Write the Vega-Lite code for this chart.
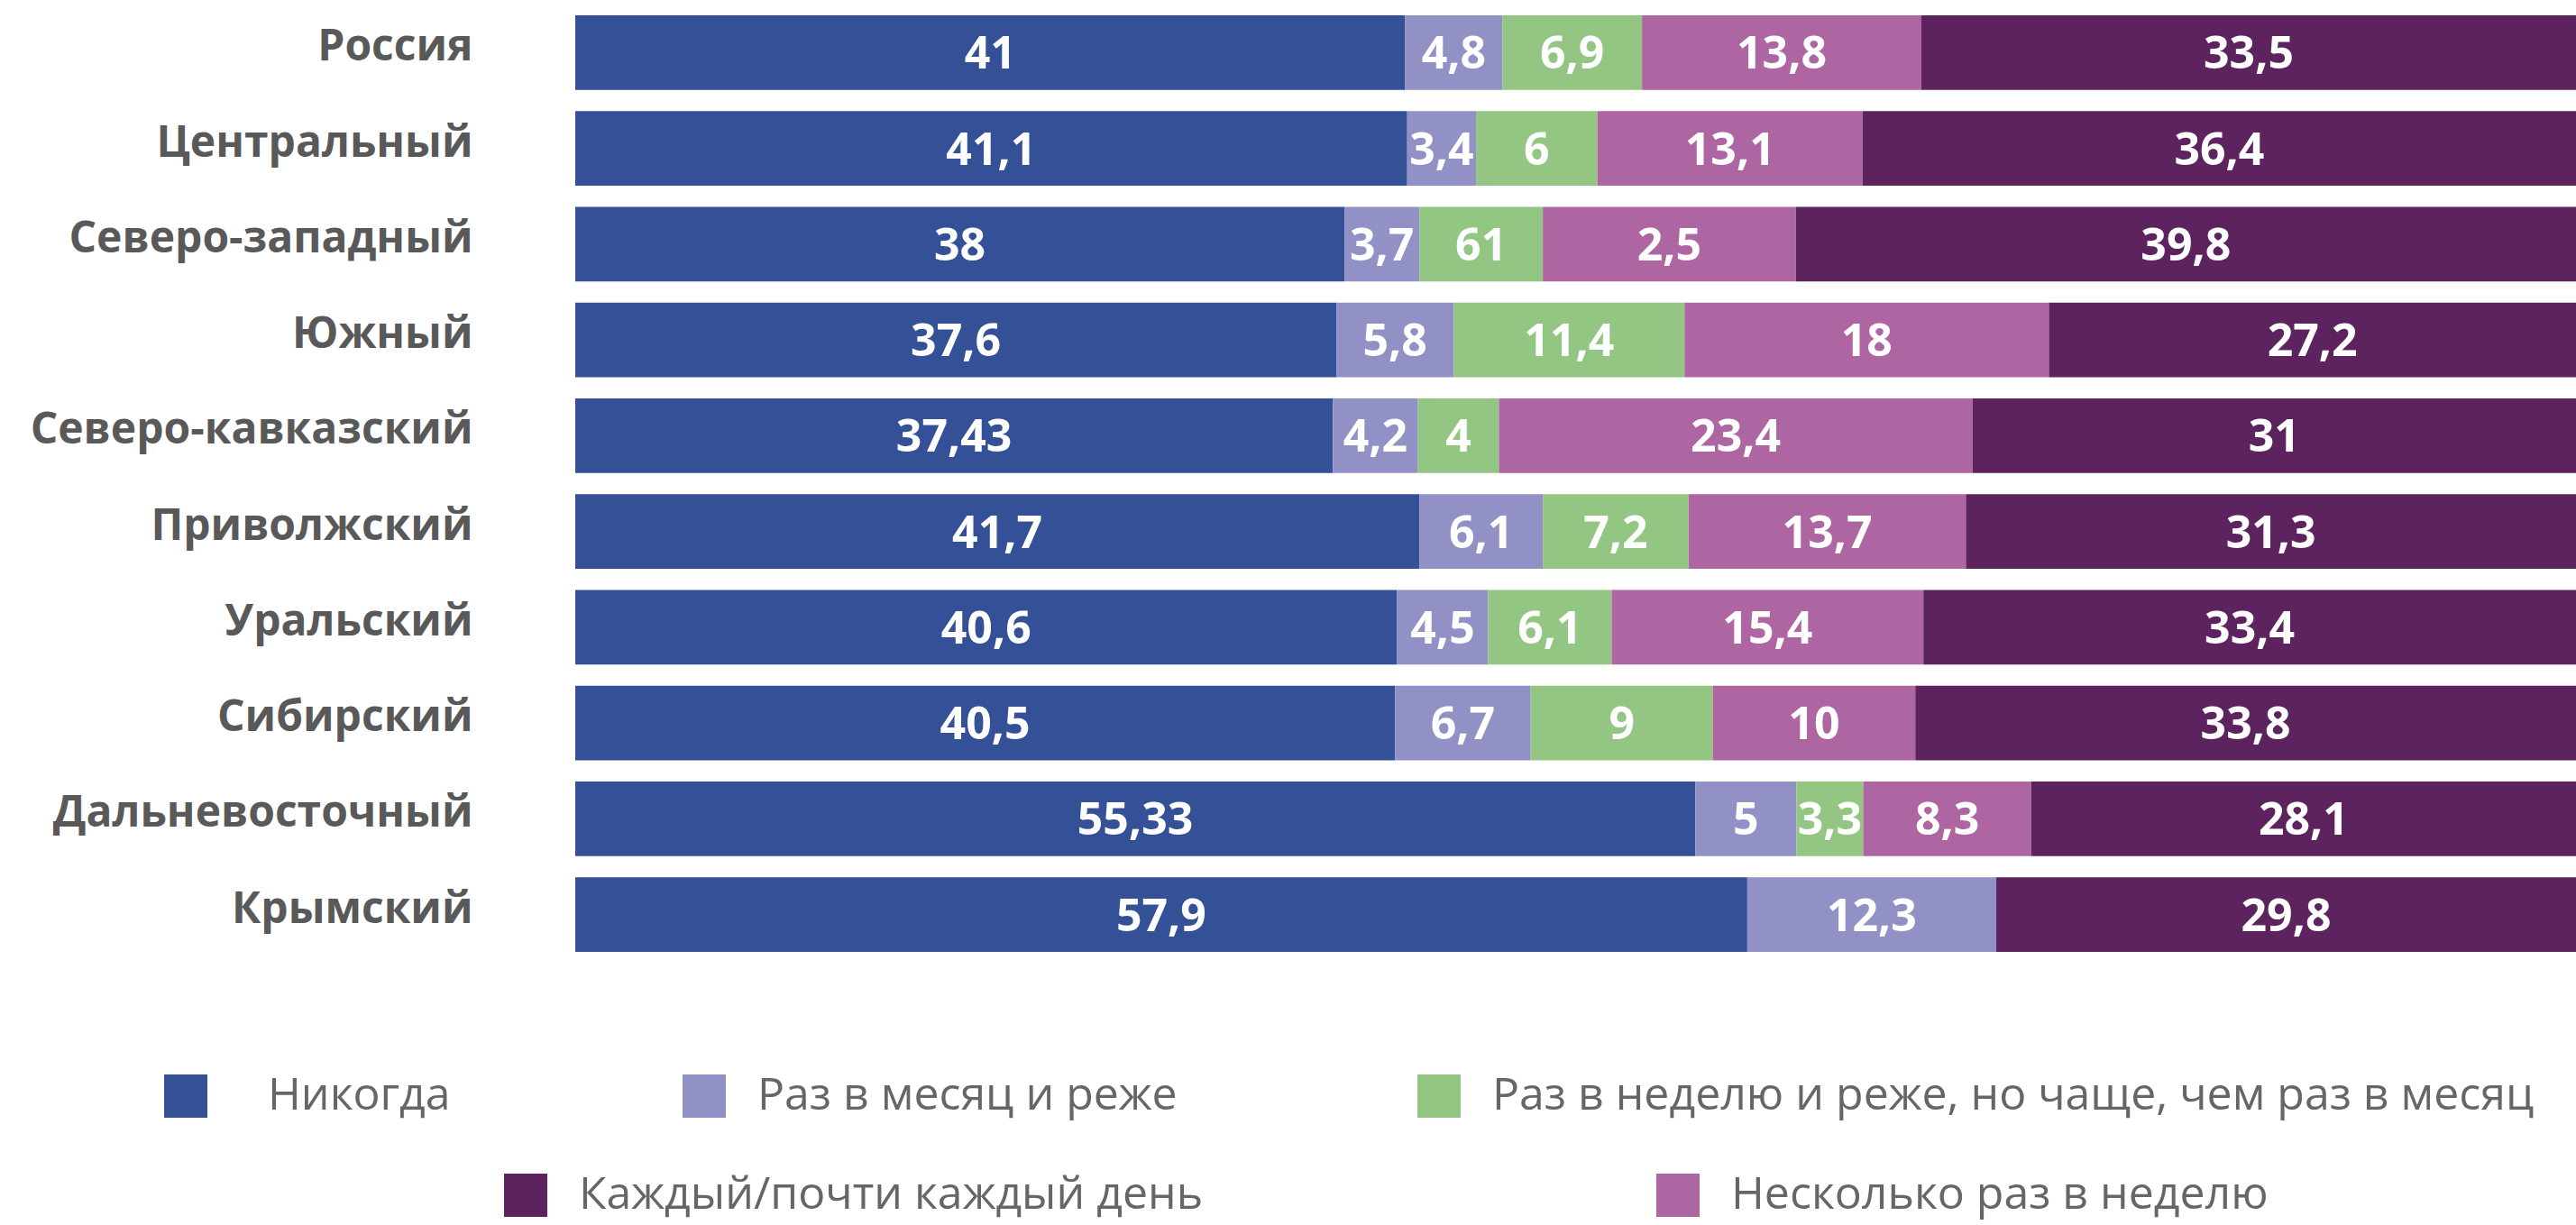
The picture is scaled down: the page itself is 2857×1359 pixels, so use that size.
{
  "$schema": "https://vega.github.io/schema/vega-lite/v6.json",
  "width": 2219,
  "height": 1039,
  "autosize": "none",
  "padding": {"left": 638, "top": 17, "right": 0, "bottom": 303},
  "background": "white",
  "config": {
    "view": {"stroke": null},
    "font": "Open Sans",
    "legend": {
      "labelFont": "Open Sans",
      "labelFontSize": 50,
      "labelColor": "#666666",
      "symbolType": "square",
      "symbolSize": 2304,
      "symbolStrokeWidth": 0,
      "symbolOpacity": 1,
      "labelOffset": 34,
      "labelLimit": 2000,
      "padding": 0
    }
  },
  "data": {
    "values": [
      {"region": "Россия", "cat": "Никогда", "v": 41, "lab": "41"},
      {"region": "Россия", "cat": "Раз в месяц и реже", "v": 4.8, "lab": "4,8"},
      {"region": "Россия", "cat": "Раз в неделю и реже, но чаще, чем раз в месяц", "v": 6.9, "lab": "6,9"},
      {"region": "Россия", "cat": "Несколько раз в неделю", "v": 13.8, "lab": "13,8"},
      {"region": "Россия", "cat": "Каждый/почти каждый день", "v": 33.5, "lab": "33,5"},
      {"region": "Центральный", "cat": "Никогда", "v": 41.1, "lab": "41,1"},
      {"region": "Центральный", "cat": "Раз в месяц и реже", "v": 3.4, "lab": "3,4"},
      {"region": "Центральный", "cat": "Раз в неделю и реже, но чаще, чем раз в месяц", "v": 6, "lab": "6"},
      {"region": "Центральный", "cat": "Несколько раз в неделю", "v": 13.1, "lab": "13,1"},
      {"region": "Центральный", "cat": "Каждый/почти каждый день", "v": 36.4, "lab": "36,4"},
      {"region": "Северо-западный", "cat": "Никогда", "v": 38, "lab": "38"},
      {"region": "Северо-западный", "cat": "Раз в месяц и реже", "v": 3.7, "lab": "3,7"},
      {"region": "Северо-западный", "cat": "Раз в неделю и реже, но чаще, чем раз в месяц", "v": 6.1, "lab": "61"},
      {"region": "Северо-западный", "cat": "Несколько раз в неделю", "v": 12.5, "lab": "2,5"},
      {"region": "Северо-западный", "cat": "Каждый/почти каждый день", "v": 39.8, "lab": "39,8"},
      {"region": "Южный", "cat": "Никогда", "v": 37.6, "lab": "37,6"},
      {"region": "Южный", "cat": "Раз в месяц и реже", "v": 5.8, "lab": "5,8"},
      {"region": "Южный", "cat": "Раз в неделю и реже, но чаще, чем раз в месяц", "v": 11.4, "lab": "11,4"},
      {"region": "Южный", "cat": "Несколько раз в неделю", "v": 18, "lab": "18"},
      {"region": "Южный", "cat": "Каждый/почти каждый день", "v": 27.2, "lab": "27,2"},
      {"region": "Северо-кавказский", "cat": "Никогда", "v": 37.43, "lab": "37,43"},
      {"region": "Северо-кавказский", "cat": "Раз в месяц и реже", "v": 4.2, "lab": "4,2"},
      {"region": "Северо-кавказский", "cat": "Раз в неделю и реже, но чаще, чем раз в месяц", "v": 4, "lab": "4"},
      {"region": "Северо-кавказский", "cat": "Несколько раз в неделю", "v": 23.4, "lab": "23,4"},
      {"region": "Северо-кавказский", "cat": "Каждый/почти каждый день", "v": 31, "lab": "31"},
      {"region": "Приволжский", "cat": "Никогда", "v": 41.7, "lab": "41,7"},
      {"region": "Приволжский", "cat": "Раз в месяц и реже", "v": 6.1, "lab": "6,1"},
      {"region": "Приволжский", "cat": "Раз в неделю и реже, но чаще, чем раз в месяц", "v": 7.2, "lab": "7,2"},
      {"region": "Приволжский", "cat": "Несколько раз в неделю", "v": 13.7, "lab": "13,7"},
      {"region": "Приволжский", "cat": "Каждый/почти каждый день", "v": 31.3, "lab": "31,3"},
      {"region": "Уральский", "cat": "Никогда", "v": 40.6, "lab": "40,6"},
      {"region": "Уральский", "cat": "Раз в месяц и реже", "v": 4.5, "lab": "4,5"},
      {"region": "Уральский", "cat": "Раз в неделю и реже, но чаще, чем раз в месяц", "v": 6.1, "lab": "6,1"},
      {"region": "Уральский", "cat": "Несколько раз в неделю", "v": 15.4, "lab": "15,4"},
      {"region": "Уральский", "cat": "Каждый/почти каждый день", "v": 33.4, "lab": "33,4"},
      {"region": "Сибирский", "cat": "Никогда", "v": 40.5, "lab": "40,5"},
      {"region": "Сибирский", "cat": "Раз в месяц и реже", "v": 6.7, "lab": "6,7"},
      {"region": "Сибирский", "cat": "Раз в неделю и реже, но чаще, чем раз в месяц", "v": 9, "lab": "9"},
      {"region": "Сибирский", "cat": "Несколько раз в неделю", "v": 10, "lab": "10"},
      {"region": "Сибирский", "cat": "Каждый/почти каждый день", "v": 33.8, "lab": "33,8"},
      {"region": "Дальневосточный", "cat": "Никогда", "v": 55.33, "lab": "55,33"},
      {"region": "Дальневосточный", "cat": "Раз в месяц и реже", "v": 5, "lab": "5"},
      {"region": "Дальневосточный", "cat": "Раз в неделю и реже, но чаще, чем раз в месяц", "v": 3.3, "lab": "3,3"},
      {"region": "Дальневосточный", "cat": "Несколько раз в неделю", "v": 8.3, "lab": "8,3"},
      {"region": "Дальневосточный", "cat": "Каждый/почти каждый день", "v": 28.1, "lab": "28,1"},
      {"region": "Крымский", "cat": "Никогда", "v": 57.9, "lab": "57,9"},
      {"region": "Крымский", "cat": "Раз в месяц и реже", "v": 12.3, "lab": "12,3"},
      {"region": "Крымский", "cat": "Каждый/почти каждый день", "v": 29.8, "lab": "29,8"}
    ]
  },
  "transform": [
    {"calculate": "indexof(['Никогда','Раз в месяц и реже','Раз в неделю и реже, но чаще, чем раз в месяц','Несколько раз в неделю','Каждый/почти каждый день'], datum.cat)", "as": "o"},
    {"stack": "v", "groupby": ["region"], "sort": [{"field": "o", "order": "ascending"}], "as": ["x0", "x1"]},
    {"calculate": "(datum.x0 + min(datum.x1, 98.84)) / 2", "as": "mid"}
  ],
  "encoding": {
    "y": {
      "field": "region",
      "type": "nominal",
      "sort": ["Россия", "Центральный", "Северо-западный", "Южный", "Северо-кавказский", "Приволжский", "Уральский", "Сибирский", "Дальневосточный", "Крымский"],
      "scale": {"paddingInner": 0.22, "paddingOuter": 0},
      "axis": {
        "title": null,
        "ticks": false,
        "domain": false,
        "labelFont": "Open Sans",
        "labelFontSize": 48,
        "labelFontWeight": "bold",
        "labelColor": "#595959",
        "labelPadding": 114,
        "labelLimit": 1000,
        "labelBaseline": "middle",
        "labelOffset": -5
      }
    }
  },
  "layer": [
    {
      "transform": [{"filter": "datum.o == 0"}],
      "mark": {"type": "bar", "clip": true},
      "encoding": {
        "x": {"field": "x0", "type": "quantitative", "scale": {"domain": [0, 98.84], "nice": false, "zero": false}, "axis": null},
        "x2": {"field": "x1"},
        "color": {
          "field": "cat",
          "type": "nominal",
          "scale": {"domain": ["Никогда"], "range": ["#345097"]},
          "legend": {
            "title": null,
            "orient": "none",
            "direction": "horizontal",
            "legendX": -457,
            "legendY": 1174,
            "labelOffset": 66
          }
        }
      }
    },
    {
      "transform": [{"filter": "datum.o == 1 || datum.o == 2"}],
      "mark": {"type": "bar", "clip": true},
      "encoding": {
        "x": {"field": "x0", "type": "quantitative", "scale": {"domain": [0, 98.84], "nice": false, "zero": false}, "axis": null},
        "x2": {"field": "x1"},
        "color": {
          "field": "cat",
          "type": "nominal",
          "scale": {
            "domain": ["Раз в месяц и реже", "Раз в неделю и реже, но чаще, чем раз в месяц"],
            "range": ["#9291c6", "#93c683"]
          },
          "legend": {
            "title": null,
            "orient": "none",
            "direction": "horizontal",
            "legendX": 118,
            "legendY": 1174,
            "columnPadding": 265
          }
        }
      }
    },
    {
      "transform": [{"filter": "datum.o >= 3"}],
      "mark": {"type": "bar", "clip": true},
      "encoding": {
        "x": {"field": "x0", "type": "quantitative", "scale": {"domain": [0, 98.84], "nice": false, "zero": false}, "axis": null},
        "x2": {"field": "x1"},
        "color": {
          "field": "cat",
          "type": "nominal",
          "scale": {
            "domain": ["Каждый/почти каждый день", "Несколько раз в неделю"],
            "range": ["#5d235f", "#ae66a3"]
          },
          "legend": {
            "title": null,
            "orient": "none",
            "direction": "horizontal",
            "legendX": -80,
            "legendY": 1284,
            "columnPadding": 501
          }
        }
      }
    },
    {
      "mark": {"type": "text", "color": "white", "font": "Open Sans", "fontSize": 50, "fontWeight": "bold", "align": "center", "baseline": "middle", "dy": 3},
      "encoding": {
        "x": {"field": "mid", "type": "quantitative", "scale": {"domain": [0, 98.84], "nice": false, "zero": false}, "axis": null},
        "text": {"field": "lab", "type": "nominal"}
      }
    }
  ],
  "resolve": {"scale": {"color": "independent"}, "legend": {"color": "independent"}}
}
